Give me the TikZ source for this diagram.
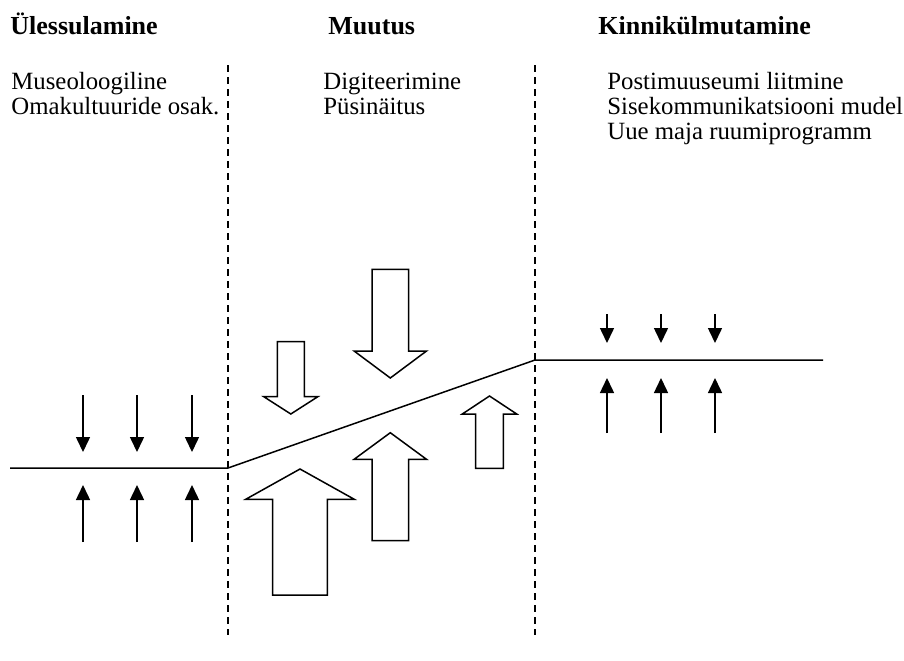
\documentclass[tikz,border=0pt]{standalone}
\usepackage{fontspec}
\setmainfont{Liberation Serif}
\usetikzlibrary{arrows.meta}

% hollow block arrow: centre x, half shaft width, half head width,
% tail y, head base y, tip y
\newcommand\blockarr[6]{%
  \draw[blockarrow] (#1-#2,#4) -- (#1+#2,#4) -- (#1+#2,#5) -- (#1+#3,#5)
    -- (#1,#6) -- (#1-#3,#5) -- (#1-#2,#5) -- cycle;}

\begin{document}
\begin{tikzpicture}[x=0.5pt,y=-0.5pt,
  txt/.style={anchor=base west, inner sep=0pt, font=\fontsize{12.4}{14}\selectfont},
  head/.style={txt, font=\fontsize{13}{15}\selectfont\bfseries},
  divider/.style={line width=0.75pt, dash pattern=on 3.5pt off 2.5pt},
  level/.style={line width=0.75pt},
  pin/.style={line width=0.75pt, -{Triangle[length=7.5pt,width=7pt]}},
  blockarrow/.style={line width=0.75pt, fill=white}]
\useasboundingbox (0,0) rectangle (904,660);

% column headings
\node[head] (h1) at (10,34) {Ülessulamine};
\node[head] (h2) at (328,34) {Muutus};
\node[head] (h3) at (598,34) {Kinnikülmutamine};

% column contents
\node[txt] (a1) at (11,89) {Museoloogiline};
\node[txt] (a2) at (11,114) {Omakultuuride osak.};
\node[txt] (b1) at (323,89) {Digiteerimine};
\node[txt] (b2) at (323,114) {Püsinäitus};
\node[txt] (c1) at (607,89) {Postimuuseumi liitmine};
\node[txt] (c2) at (607,114) {Sisekommunikatsiooni mudel};
\node[txt] (c3) at (607,139) {Uue maja ruumiprogramm};

% dashed column dividers
\coordinate (d1t) at (228,65);  \coordinate (d1b) at (228,635);
\coordinate (d2t) at (535,65);  \coordinate (d2b) at (535,635);
\draw[divider] (d1t) -- (d1b);
\draw[divider] (d2t) -- (d2b);

% level line: low, rising, high
\coordinate (l0) at (10,468);
\coordinate (l1) at (228,468);
\coordinate (l2) at (535,360);
\coordinate (l3) at (823,360);
\draw[level] (l0) -- (l1) -- (l2) -- (l3);

% pressure arrows on the low level
\foreach \x [count=\i] in {83,137,192} {
  \coordinate (lds\i) at (\x,395); \coordinate (lde\i) at (\x,452);
  \coordinate (lus\i) at (\x,542); \coordinate (lue\i) at (\x,485);
  \draw[pin] (lds\i) -- (lde\i);
  \draw[pin] (lus\i) -- (lue\i);
}

% pressure arrows on the high level
\foreach \x [count=\i] in {607,661,715} {
  \coordinate (rds\i) at (\x,314); \coordinate (rde\i) at (\x,343);
  \coordinate (rus\i) at (\x,433); \coordinate (rue\i) at (\x,378);
  \draw[pin] (rds\i) -- (rde\i);
  \draw[pin] (rus\i) -- (rue\i);
}

% forces of change
\blockarr{290.8}{13.5}{27}{341.7}{396.7}{414}
\blockarr{390.3}{18.3}{36.2}{269.3}{351}{378}
\blockarr{300}{27.3}{54.3}{595}{499.3}{469}
\blockarr{390.3}{18.3}{36.2}{540.7}{459.3}{432.7}
\blockarr{489.5}{13.8}{27.2}{468.3}{414}{396}
\end{tikzpicture}
\end{document}
